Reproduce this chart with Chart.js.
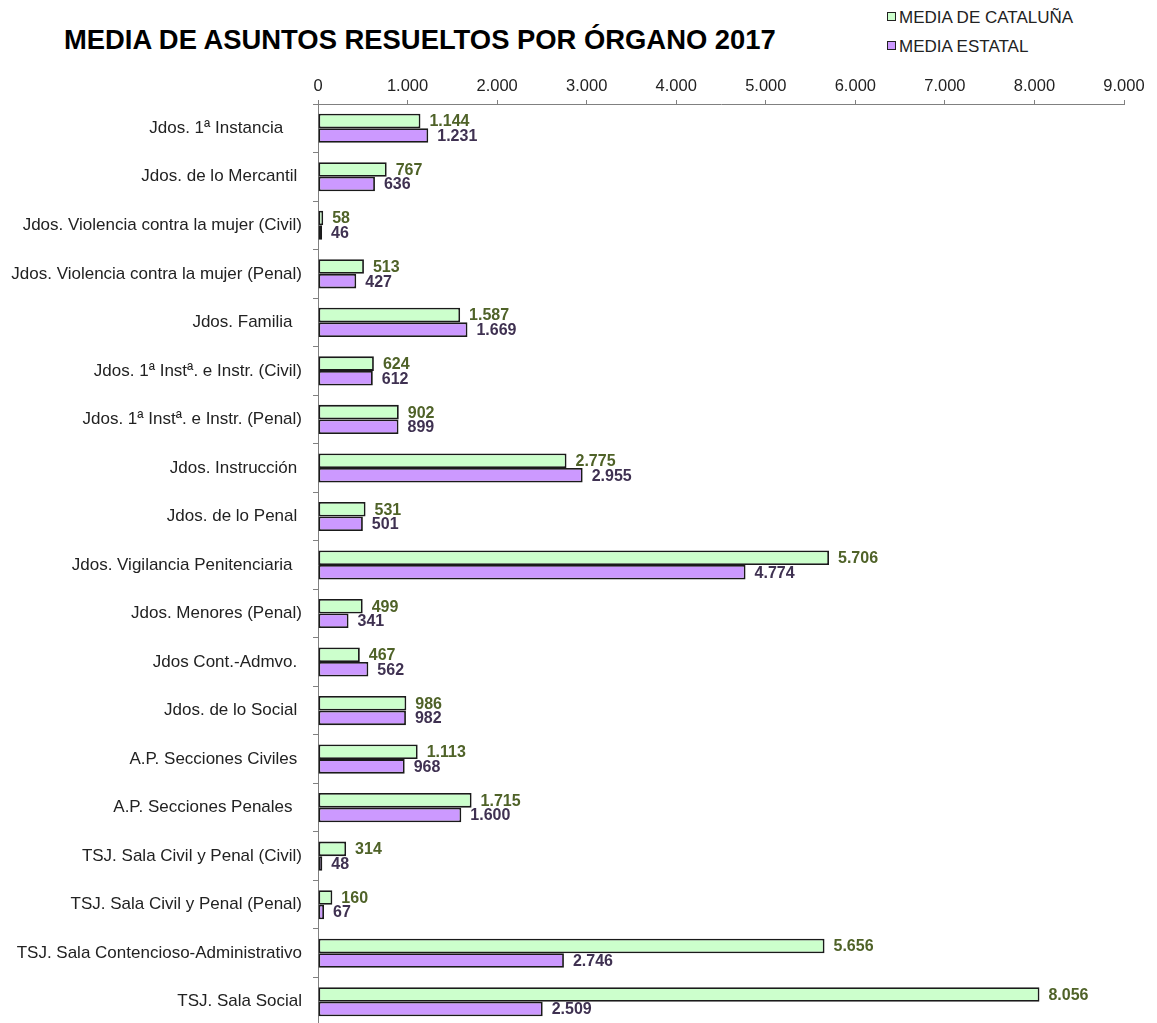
<!DOCTYPE html>
<html>
<head>
<meta charset="utf-8">
<script src="https://cdn.jsdelivr.net/npm/chart.js@4.4.1/dist/chart.umd.min.js"></script>
<style>
  html, body { margin: 0; padding: 0; background: #fff; overflow: hidden; }
  body { width: 1157px; height: 1023px; position: relative; font-family: Arial, "Liberation Sans", sans-serif; }
  #title { position: absolute; left: 64px; top: 24px; font-size: 27.4px; font-weight: bold; color: #000; white-space: nowrap; }
  .leg { position: absolute; left: 887px; font-size: 17px; color: #222; white-space: nowrap; line-height: 20px; }
  .leg span { display: inline-block; width: 7px; height: 7px; border: 1px solid #222; margin-right: 3px; vertical-align: 2px; }
  #wrap { position: absolute; left: 0; top: 0; width: 1157px; height: 1026px; }
</style>
</head>
<body>
<div id="title">MEDIA DE ASUNTOS RESUELTOS POR ÓRGANO 2017</div>
<div class="leg" style="top: 8px;"><span style="background:#ccffcc"></span>MEDIA DE CATALUÑA</div>
<div class="leg" style="top: 37px;"><span style="background:#cc99ff"></span>MEDIA ESTATAL</div>
<div id="wrap"><canvas id="chart"></canvas></div>
<script>
const categories = [
    'Jdos. 1ª Instancia    ',
    'Jdos. de lo Mercantil ',
    'Jdos. Violencia contra la mujer (Civil)',
    'Jdos. Violencia contra la mujer (Penal)',
    'Jdos. Familia  ',
    'Jdos. 1ª Instª. e Instr. (Civil)',
    'Jdos. 1ª Instª. e Instr. (Penal)',
    'Jdos. Instrucción ',
    'Jdos. de lo Penal ',
    'Jdos. Vigilancia Penitenciaria  ',
    'Jdos. Menores (Penal)',
    'Jdos Cont.-Admvo. ',
    'Jdos. de lo Social ',
    'A.P. Secciones Civiles ',
    'A.P. Secciones Penales  ',
    'TSJ. Sala Civil y Penal (Civil)',
    'TSJ. Sala Civil y Penal (Penal)',
    'TSJ. Sala Contencioso-Administrativo',
    'TSJ. Sala Social'
];
const cataluna = [1144, 767, 58, 513, 1587, 624, 902, 2775, 531, 5706, 499, 467, 986, 1113, 1715, 314, 160, 5656, 8056];
const estatal = [1231, 636, 46, 427, 1669, 612, 899, 2955, 501, 4774, 341, 562, 982, 968, 1600, 48, 67, 2746, 2509];
const xTicks = [0, 1000, 2000, 3000, 4000, 5000, 6000, 7000, 8000, 9000];

function fmt(n) {
    return String(n).replace(/\B(?=(\d{3})+(?!\d))/g, '.');
}

const labelColors = ['#4f6228', '#3f3151'];

// write the value at the end of each bar
const valueLabels = {
    id: 'valueLabels',
    afterDatasetsDraw(chart) {
        const ctx = chart.ctx;
        ctx.save();
        ctx.font = 'bold 16px Arial, "Liberation Sans", sans-serif';
        ctx.textAlign = 'left';
        ctx.textBaseline = 'middle';
        chart.data.datasets.forEach((ds, i) => {
            const meta = chart.getDatasetMeta(i);
            ctx.fillStyle = labelColors[i];
            meta.data.forEach((bar, j) => {
                ctx.fillText(fmt(ds.data[j]), bar.x + 9, bar.y + 1);
            });
        });
        ctx.restore();
    }
};

Chart.defaults.font.family = 'Arial, "Liberation Sans", sans-serif';
Chart.defaults.color = '#222';

new Chart(document.getElementById('chart'), {
    type: 'bar',
    data: {
        labels: categories,
        datasets: [{
            label: 'MEDIA DE CATALUÑA',
            data: cataluna,
            backgroundColor: '#ccffcc',
            borderColor: '#1a1a1a',
            borderWidth: 1.8,
            borderSkipped: false,
            categoryPercentage: 0.6,
            barPercentage: 1.0
        }, {
            label: 'MEDIA ESTATAL',
            data: estatal,
            backgroundColor: '#cc99ff',
            borderColor: '#1a1a1a',
            borderWidth: 1.8,
            borderSkipped: false,
            categoryPercentage: 0.6,
            barPercentage: 1.0
        }]
    },
    options: {
        indexAxis: 'y',
        responsive: true,
        maintainAspectRatio: false,
        animation: false,
        layout: { padding: { top: 0, right: 33, bottom: 0, left: 0 } },
        plugins: {
            legend: { display: false },
            tooltip: { enabled: false }
        },
        scales: {
            x: {
                position: 'top',
                min: 0,
                max: 9000,
                afterBuildTicks: scale => { scale.ticks = xTicks.map(v => ({ value: v })); },
                afterFit: scale => { scale.height = 104; },
                ticks: {
                    padding: 4,
                    color: '#222',
                    font: { size: 16.5 },
                    callback: v => fmt(v)
                },
                grid: {
                    drawOnChartArea: false,
                    drawTicks: true,
                    tickLength: 4,
                    color: '#808080'
                },
                border: { color: '#808080', width: 1 }
            },
            y: {
                afterFit: scale => {
                    scale.width = 318;
                    scale.paddingTop = 0;
                    scale.paddingBottom = 0;
                },
                ticks: {
                    padding: 11,
                    color: '#222',
                    font: { size: 17 },
                    autoSkip: false
                },
                grid: {
                    offset: true,
                    drawOnChartArea: false,
                    drawTicks: true,
                    tickLength: 5,
                    color: '#808080'
                },
                border: { color: '#808080', width: 1 }
            }
        }
    },
    plugins: [valueLabels]
});
</script>
</body>
</html>
